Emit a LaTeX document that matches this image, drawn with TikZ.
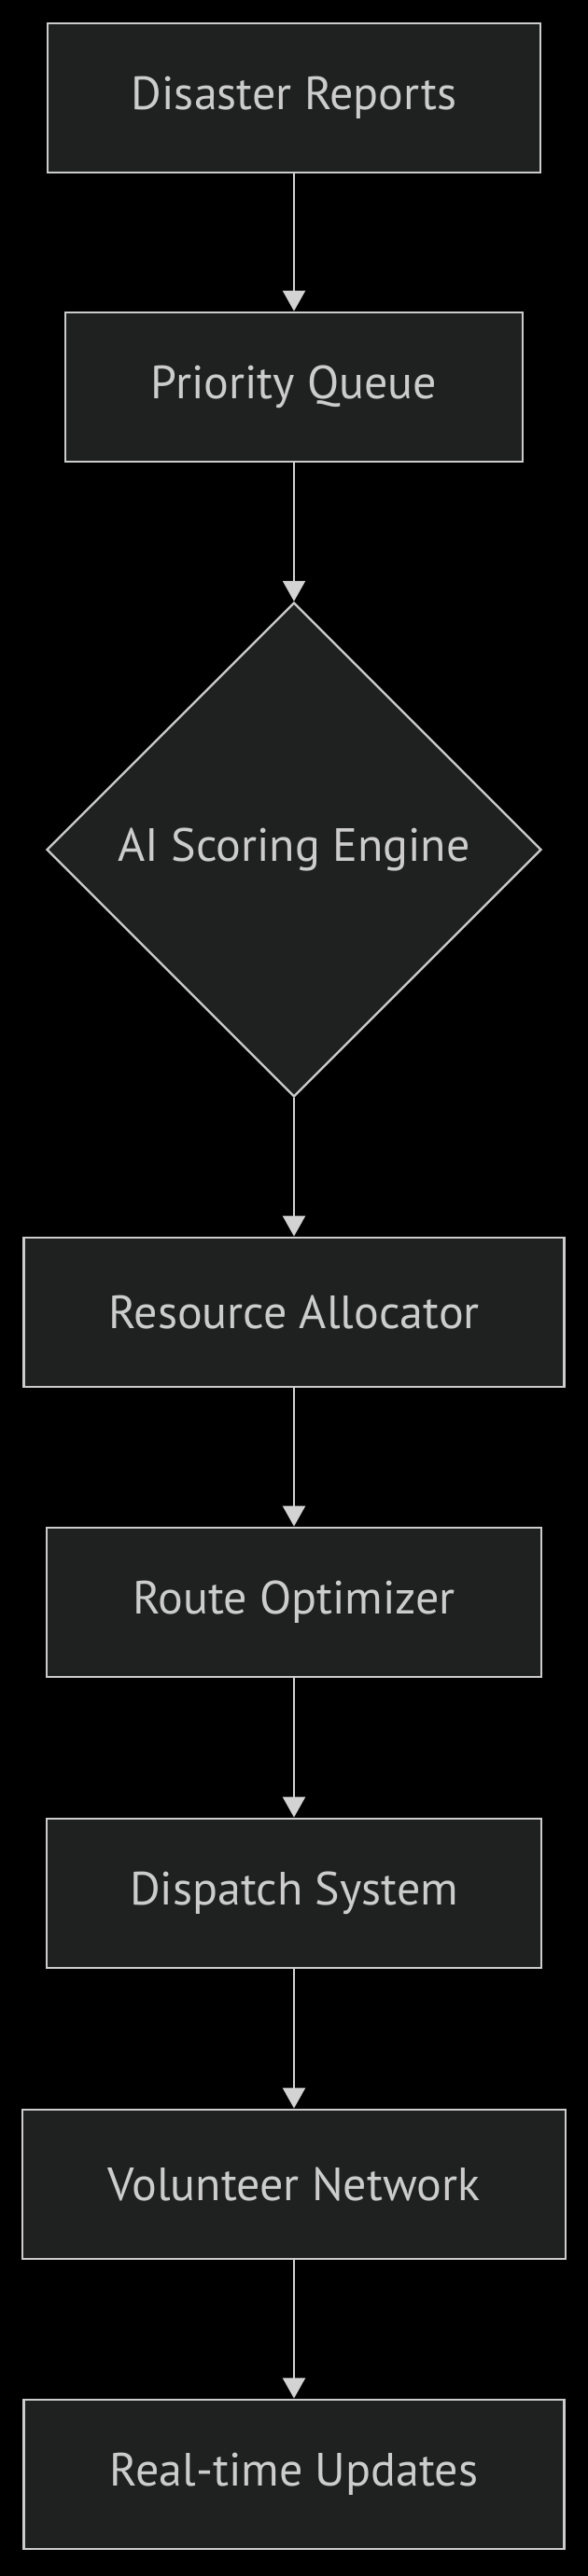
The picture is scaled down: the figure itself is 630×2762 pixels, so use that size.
\documentclass[tikz,border=0pt]{standalone}
\usepackage{fontspec}
\setmainfont{PT Sans}
\usetikzlibrary{arrows.meta,shapes.geometric}
\definecolor{nodefill}{HTML}{1F2020}
\definecolor{nodeline}{HTML}{CCCCCC}
\definecolor{txt}{HTML}{CCCCCC}
\definecolor{edgec}{HTML}{D3D3D3}
\begin{document}
\begin{tikzpicture}[x=0.5pt,y=-0.5pt,
  box/.style={rectangle, draw=nodeline, fill=nodefill, line width=1.4pt, text=txt,
    font=\fontsize{25}{30}\selectfont, inner sep=0pt, minimum height=80pt},
  dia/.style={diamond, draw=nodeline, fill=nodefill, line width=1.2pt, text=txt,
    font=\fontsize{25}{30}\selectfont, inner sep=0pt, minimum width=265pt, minimum height=265pt},
  flow/.style={draw=edgec, line width=1.3pt, -{Triangle[length=11pt,width=12pt]}}]
\fill[black] (0,0) rectangle (630,2762);
\useasboundingbox (0,0) rectangle (630,2762);
\node[box, minimum width=264pt] (dr) at (315,105) {Disaster Reports};
\node[box, minimum width=245pt] (pq) at (315,415) {Priority Queue};
\node[dia] (ai) at (315,911) {AI Scoring Engine};
\node[box, minimum width=289.5pt] (ra) at (315,1407) {Resource Allocator};
\node[box, minimum width=265pt] (ro) at (315,1718) {Route Optimizer};
\node[box, minimum width=265pt] (ds) at (315,2030) {Dispatch System};
\node[box, minimum width=291pt] (vn) at (315,2342) {Volunteer Network};
\node[box, minimum width=289.5pt] (ru) at (315,2653) {Real-time Updates};
\draw[flow] (dr) -- (pq);
\draw[flow] (pq) -- (ai);
\draw[flow] (ai) -- (ra);
\draw[flow] (ra) -- (ro);
\draw[flow] (ro) -- (ds);
\draw[flow] (ds) -- (vn);
\draw[flow] (vn) -- (ru);
\end{tikzpicture}
\end{document}
